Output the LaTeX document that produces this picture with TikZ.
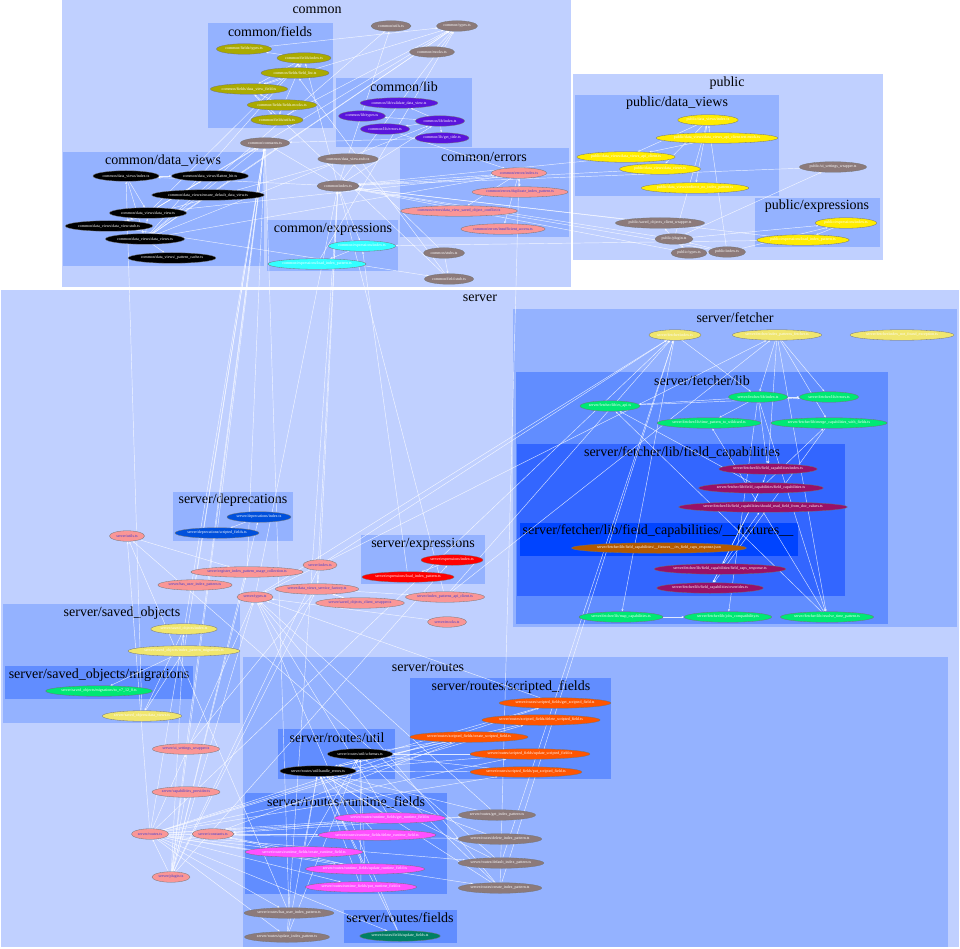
\documentclass[tikz,border=0pt]{standalone}
\usepackage{fontspec}
\setmainfont{Liberation Serif}
\usetikzlibrary{shapes.geometric,arrows.meta}
\pgfdeclarelayer{bg}\pgfdeclarelayer{edges}\pgfsetlayers{bg,edges,main}
\definecolor{Lone}{RGB}{192,208,255}
\definecolor{Ltwo}{RGB}{148,178,255}
\definecolor{Lthree}{RGB}{97,141,255}
\definecolor{Lfour}{RGB}{51,102,255}
\definecolor{Lfive}{RGB}{0,68,255}
\definecolor{cOlive}{RGB}{170,170,0}
\definecolor{cPurple}{RGB}{90,20,220}
\definecolor{cSalmon}{RGB}{250,150,150}
\definecolor{cSalmonText}{RGB}{60,60,210}
\definecolor{cCyan}{RGB}{51,255,255}
\definecolor{cGray}{RGB}{140,122,122}
\definecolor{cYellow}{RGB}{255,236,0}
\definecolor{cKhaki}{RGB}{240,230,110}
\definecolor{cGreen}{RGB}{0,232,115}
\definecolor{cPlum}{RGB}{153,17,102}
\definecolor{cBrown}{RGB}{180,90,0}
\definecolor{cBlue}{RGB}{0,80,220}
\definecolor{cRed}{RGB}{255,0,0}
\definecolor{cOrange}{RGB}{255,85,0}
\definecolor{cPink}{RGB}{255,80,255}
\definecolor{cTeal}{RGB}{0,128,100}
\newcommand\NN[6]{\node[#1,minimum width=#5pt] (#2) at (#3,#4) {#6};}
\newcommand\CL[5]{\fill[#1] (#2,#3) rectangle (#4,#5);}
\begin{document}
\begin{tikzpicture}[x=1pt,y=-1pt,
  nd/.style={ellipse,inner sep=0pt,minimum height=10.5pt,draw=black!55,line width=0.3pt,
    font=\fontsize{4}{4.5}\selectfont,text=white},
  gr/.style={nd,fill=cGray},
  ol/.style={nd,fill=cOlive},
  pu/.style={nd,fill=cPurple},
  bk/.style={nd,fill=black},
  sa/.style={nd,fill=cSalmon,text=cSalmonText},
  cy/.style={nd,fill=cCyan},
  ye/.style={nd,fill=cYellow},
  kh/.style={nd,fill=cKhaki},
  gn/.style={nd,fill=cGreen},
  pl/.style={nd,fill=cPlum},
  br/.style={nd,fill=cBrown},
  bl/.style={nd,fill=cBlue},
  rd/.style={nd,fill=cRed},
  orr/.style={nd,fill=cOrange},
  pk/.style={nd,fill=cPink},
  tl/.style={nd,fill=cTeal},
  ctitle/.style={font=\fontsize{14}{14}\selectfont,inner sep=0pt,text=black},
  ed/.style={draw=white,opacity=0.8,line width=0.45pt,-{Stealth[length=2.6pt,width=2pt]}}]
\useasboundingbox (0,0) rectangle (960,949);
\begin{pgfonlayer}{bg}
\fill[white] (0,0) rectangle (960,949);
% clusters
\CL{Lone}{62}{0}{571}{287}
\node[ctitle] (tcommon) at (317,10) {common};
\CL{Ltwo}{208}{23}{333}{128}
\node[ctitle] (tcfields) at (270,32) {common/fields};
\CL{Ltwo}{336}{78}{472}{147}
\node[ctitle] (tclib) at (404,87) {common/lib};
\CL{Ltwo}{63}{152}{264}{266}
\node[ctitle] (tcdv) at (163,161) {common/data\_views};
\CL{Ltwo}{400}{148}{569}{237}
\node[ctitle] (tcerr) at (484,157) {common/errors};
\CL{Ltwo}{267}{220}{398}{271}
\node[ctitle] (tcexp) at (333,229) {common/expressions};
\CL{Lone}{573}{74}{883}{260}
\node[ctitle] (tpublic) at (727,83) {public};
\CL{Ltwo}{575}{95}{779}{196}
\node[ctitle] (tpdv) at (677,103) {public/data\_views};
\CL{Ltwo}{755}{198}{880}{247}
\node[ctitle] (tpexp) at (817,206) {public/expressions};
\CL{Lone}{1}{290}{959}{947}
\node[ctitle] (tserver) at (480,298) {server};
\CL{Ltwo}{513}{309}{957}{627}
\node[ctitle] (tfet) at (735,318) {server/fetcher};
\CL{Lthree}{516}{372}{888}{624}
\node[ctitle] (tfetlib) at (702,381) {server/fetcher/lib};
\CL{Lfour}{517}{444}{845}{596}
\node[ctitle] (tfc) at (682,453) {server/fetcher/lib/field\_capabilities};
\CL{Lfive}{520}{523}{798}{556}
\node[ctitle] (tfix) at (658,531) {server/fetcher/lib/field\_capabilities/\_\_fixtures\_\_};
\CL{Ltwo}{173}{492}{293}{541}
\node[ctitle] (tdep) at (233,500) {server/deprecations};
\CL{Ltwo}{361}{535}{485}{584}
\node[ctitle] (tsexp) at (423,544) {server/expressions};
\CL{Ltwo}{3}{604}{240}{723}
\node[ctitle] (tso) at (122,613) {server/saved\_objects};
\CL{Lthree}{5}{666}{193}{699}
\node[ctitle] (tmig) at (99,675) {server/saved\_objects/migrations};
\CL{Ltwo}{243}{657}{948}{947}
\node[ctitle] (troutes) at (428,667) {server/routes};
\CL{Lthree}{410}{678}{611}{779}
\node[ctitle] (trsf) at (511,687) {server/routes/scripted\_fields};
\CL{Lthree}{278}{729}{395}{779}
\node[ctitle] (tutil) at (337,738) {server/routes/util};
\CL{Lthree}{245}{793}{447}{894}
\node[ctitle] (trrf) at (346,802) {server/routes/runtime\_fields};
\CL{Lthree}{344}{910}{457}{943}
\node[ctitle] (trf) at (400,918) {server/routes/fields};
\end{pgfonlayer}
% ---- common root
\NN{gr}{cutils}{391}{26}{40}{common/utils.ts}
\NN{gr}{ctypes}{457}{26}{41}{common/types.ts}
\NN{gr}{cmocks}{432}{52}{45}{common/mocks.ts}
\NN{gr}{cconst}{265}{143}{49}{common/constants.ts}
\NN{gr}{cdvstub}{348}{159}{60}{common/data\_view.stub.ts}
\NN{gr}{cindex}{338}{186}{42}{common/index.ts}
\NN{gr}{cstubs}{444}{253}{41}{common/stubs.ts}
\NN{gr}{cfstub}{449}{279}{49}{common/field.stub.ts}
% common/fields
\NN{ol}{ftypes}{244}{49}{55}{common/fields/types.ts}
\NN{ol}{findex}{304}{58}{54}{common/fields/index.ts}
\NN{ol}{flist}{295}{73}{68}{common/fields/field\_list.ts}
\NN{ol}{fdvf}{249}{89}{76}{common/fields/data\_view\_field.ts}
\NN{ol}{fmocks}{282}{105}{60}{common/fields/fields.mocks.ts}
\NN{ol}{futils}{277}{120}{52}{common/fields/utils.ts}
% common/lib
\NN{pu}{lval}{399}{103}{77}{common/lib/validate\_data\_view.ts}
\NN{pu}{ltypes}{362}{116}{47}{common/lib/types.ts}
\NN{pu}{lindex}{440}{121}{49}{common/lib/index.ts}
\NN{pu}{lerr}{385}{129}{49}{common/lib/errors.ts}
\NN{pu}{ltitle}{442}{138}{54}{common/lib/get\_title.ts}
% common/data_views
\NN{bk}{dvindex}{126}{176}{56}{common/data\_views/index.ts}
\NN{bk}{dvflat}{210}{176}{75}{common/data\_views/flatten\_hit.ts}
\NN{bk}{dvens}{208}{195}{109}{common/data\_views/ensure\_default\_data\_view.ts}
\NN{bk}{dvdv}{148}{213}{77}{common/data\_views/data\_view.ts}
\NN{bk}{dvstub}{109}{226}{86}{common/data\_views/data\_view.stub.ts}
\NN{bk}{dvdvs}{145}{239}{77}{common/data\_views/data\_views.ts}
\NN{bk}{dvpc}{172}{258}{86}{common/data\_views/\_pattern\_cache.ts}
% common/errors
\NN{sa}{errindex}{519}{173}{55}{common/errors/index.ts}
\NN{sa}{errdup}{520}{192}{93}{common/errors/duplicate\_index\_pattern.ts}
\NN{sa}{errconf}{459}{211}{112}{common/errors/data\_view\_saved\_object\_conflict.ts}
\NN{sa}{errins}{503}{229}{82}{common/errors/insufficient\_access.ts}
% common/expressions
\NN{cy}{expindex}{362}{246}{67}{common/expressions/index.ts}
\NN{cy}{expload}{317}{264}{96}{common/expressions/load\_index\_pattern.ts}
% ---- public
\NN{ye}{pdvindex}{708}{120}{60}{public/data\_views/index.ts}
\NN{ye}{pdvmock}{717}{138}{117}{public/data\_views/data\_views\_api\_client.test.mock.ts}
\NN{ye}{pdvapi}{626}{157}{95}{public/data\_views/data\_views\_api\_client.ts}
\NN{ye}{pdvdvs}{660}{169}{81}{public/data\_views/data\_views.ts}
\NN{ye}{pdvredir}{695}{188}{107}{public/data\_views/redirect\_no\_index\_pattern.ts}
\NN{gr}{pui}{833}{167}{67}{public/ui\_settings\_wrapper.ts}
\NN{gr}{psoc}{660}{223}{87}{public/saved\_objects\_client\_wrapper.ts}
\NN{gr}{pplugin}{674}{239}{38}{public/plugin.ts}
\NN{gr}{ptypes}{689}{253}{36}{public/types.ts}
\NN{gr}{pindex}{727}{252}{37}{public/index.ts}
\NN{ye}{pexpindex}{846}{223}{61}{public/expressions/index.ts}
\NN{ye}{pexpload}{803}{240}{90}{public/expressions/load\_index\_pattern.ts}
% ---- server/fetcher
\NN{kh}{fetindex}{675}{335}{52}{server/fetcher/index.ts}
\NN{kh}{fetipf}{777}{335}{88}{server/fetcher/index\_patterns\_fetcher.ts}
\NN{kh}{fetnf}{902}{335}{104}{server/fetcher/index\_not\_found\_exception.ts}
\NN{gn}{libes}{610}{406}{60}{server/fetcher/lib/es\_api.ts}
\NN{gn}{libindex}{758}{397}{59}{server/fetcher/lib/index.ts}
\NN{gn}{liberrors}{829}{397}{59}{server/fetcher/lib/errors.ts}
\NN{gn}{libtpw}{709}{423}{100}{server/fetcher/lib/time\_pattern\_to\_wildcard.ts}
\NN{gn}{libmerge}{829}{423}{112}{server/fetcher/lib/merge\_capabilities\_with\_fields.ts}
\NN{pl}{fcindex}{768}{469}{96}{server/fetcher/lib/field\_capabilities/index.ts}
\NN{pl}{fcfc}{761}{488}{120}{server/fetcher/lib/field\_capabilities/field\_capabilities.ts}
\NN{pl}{fcshould}{763}{507}{160}{server/fetcher/lib/field\_capabilities/should\_read\_field\_from\_doc\_values.ts}
\NN{br}{fixjson}{659}{548}{166}{server/fetcher/lib/field\_capabilities/\_\_fixtures\_\_/es\_field\_caps\_response.json}
\NN{pl}{fcresp}{720}{569}{125}{server/fetcher/lib/field\_capabilities/field\_caps\_response.ts}
\NN{pl}{fcover}{710}{588}{104}{server/fetcher/lib/field\_capabilities/overrides.ts}
\NN{gn}{libmap}{621}{617}{84}{server/fetcher/lib/map\_capabilities.ts}
\NN{gn}{libjobs}{728}{617}{85}{server/fetcher/lib/jobs\_compatibility.ts}
\NN{gn}{libresolve}{827}{617}{91}{server/fetcher/lib/resolve\_time\_pattern.ts}
% ---- server misc
\NN{bl}{depindex}{259}{517}{64}{server/deprecations/index.ts}
\NN{bl}{depsf}{217}{533}{82}{server/deprecations/scripted\_fields.ts}
\NN{sa}{sutils}{127}{536}{35}{server/utils.ts}
\NN{rd}{sexpindex}{452}{560}{62}{server/expressions/index.ts}
\NN{rd}{sexpload}{408}{577}{90}{server/expressions/load\_index\_pattern.ts}
\NN{sa}{sregusage}{247}{572}{108}{server/register\_index\_pattern\_usage\_collection.ts}
\NN{sa}{shasuser}{195}{585}{74}{server/has\_user\_index\_pattern.ts}
\NN{sa}{sindex}{320}{565}{34}{server/index.ts}
\NN{sa}{stypes}{255}{597}{36}{server/types.ts}
\NN{sa}{sdvsf}{317}{589}{82}{server/data\_views\_service\_factory.ts}
\NN{sa}{ssoc}{360}{603}{86}{server/saved\_objects\_client\_wrapper.ts}
\NN{sa}{sipa}{445}{597}{77}{server/index\_patterns\_api\_client.ts}
\NN{sa}{smocks}{447}{622}{39}{server/mocks.ts}
\NN{kh}{soindex}{184}{629}{66}{server/saved\_objects/index.ts}
\NN{kh}{soipm}{184}{651}{108}{server/saved\_objects/index\_pattern\_migrations.ts}
\NN{gn}{mignode}{99}{691}{103}{server/saved\_objects/migrations/to\_v7\_12\_0.ts}
\NN{kh}{sodv}{142}{716}{78}{server/saved\_objects/data\_views.ts}
\NN{sa}{sui}{186}{749}{67}{server/ui\_settings\_wrapper.ts}
\NN{sa}{scap}{186}{792}{68}{server/capabilities\_provider.ts}
\NN{sa}{sroutes}{150}{834}{37}{server/routes.ts}
\NN{sa}{sconst}{213}{834}{36}{server/constants.ts}
\NN{sa}{splugin}{171}{877}{38}{server/plugin.ts}
% ---- server/routes
\NN{orr}{rsfget}{555}{703}{107}{server/routes/scripted\_fields/get\_scripted\_field.ts}
\NN{orr}{rsfdel}{541}{720}{114}{server/routes/scripted\_fields/delete\_scripted\_field.ts}
\NN{orr}{rsfcreate}{469}{737}{113}{server/routes/scripted\_fields/create\_scripted\_field.ts}
\NN{orr}{rsfupd}{530}{754}{115}{server/routes/scripted\_fields/update\_scripted\_field.ts}
\NN{orr}{rsfput}{526}{772}{107}{server/routes/scripted\_fields/put\_scripted\_field.ts}
\NN{bk}{uschemas}{360}{754}{65}{server/routes/util/schemas.ts}
\NN{bk}{uhandle}{318}{771}{76}{server/routes/util/handle\_errors.ts}
\NN{pk}{rrfget}{390}{818}{105}{server/routes/runtime\_fields/get\_runtime\_field.ts}
\NN{pk}{rrfdel}{377}{835}{112}{server/routes/runtime\_fields/delete\_runtime\_field.ts}
\NN{pk}{rrfcreate}{304}{852}{112}{server/routes/runtime\_fields/create\_runtime\_field.ts}
\NN{pk}{rrfupd}{365}{869}{114}{server/routes/runtime\_fields/update\_runtime\_field.ts}
\NN{pk}{rrfput}{361}{887}{107}{server/routes/runtime\_fields/put\_runtime\_field.ts}
\NN{gr}{rget}{497}{815}{77}{server/routes/get\_index\_pattern.ts}
\NN{gr}{rdel}{500}{839}{83}{server/routes/delete\_index\_pattern.ts}
\NN{gr}{rdef}{501}{863}{84}{server/routes/default\_index\_pattern.ts}
\NN{gr}{rcreate}{500}{888}{83}{server/routes/create\_index\_pattern.ts}
\NN{gr}{rhasuser}{289}{913}{88}{server/routes/has\_user\_index\_pattern.ts}
\NN{gr}{rupd}{287}{937}{84}{server/routes/update\_index\_pattern.ts}
\NN{tl}{rfupd}{400}{936}{79}{server/routes/fields/update\_fields.ts}
% ---- edges
\begin{pgfonlayer}{edges}
\foreach \a/\b in {cindex/dvindex, cindex/findex, cindex/lindex, cindex/errindex, cindex/expindex, cindex/cconst, cindex/ctypes, cindex/cutils,
 cmocks/ctypes, cstubs/cdvstub, cstubs/cfstub, cdvstub/dvstub, cfstub/fdvf, cfstub/flist,
 dvindex/dvdv, dvindex/dvdvs, dvindex/dvflat,
 dvdvs/dvdv, dvdvs/dvens, dvdvs/dvpc, dvdvs/findex, dvdvs/lindex, dvdvs/errindex, dvdvs/cconst, dvdvs/ctypes, dvdvs/cutils,
 dvdv/findex, dvdv/dvflat, dvdv/ctypes, dvdv/errindex, dvdv/cconst,
 dvstub/dvdv, dvstub/cfstub, dvens/ctypes,
 findex/flist, findex/fdvf, findex/futils, findex/ftypes,
 flist/fdvf, fdvf/futils, fdvf/ctypes, fmocks/fdvf, ftypes/ctypes, futils/ctypes,
 lindex/lval, lindex/lerr, lindex/ltitle, lindex/ltypes, ltitle/cconst, lerr/errindex,
 errindex/errdup, errindex/errconf, errindex/errins,
 expindex/expload, expload/ctypes,
 pindex/pplugin, pindex/ptypes, pindex/pdvindex, pindex/pexpindex, pindex/cindex,
 pplugin/pdvindex, pplugin/pexpindex, pplugin/pui, pplugin/psoc, pplugin/ptypes, pplugin/cindex,
 pdvindex/pdvapi, pdvindex/pdvdvs, pdvindex/pdvredir, pdvdvs/cindex, pdvapi/cindex, pdvmock/pdvapi,
 pexpindex/pexpload, pexpload/cindex, pexpload/expindex, psoc/cindex, pui/cindex, ptypes/cindex,
 sindex/splugin, sindex/stypes, sindex/fetindex, sindex/cindex, sindex/sdvsf, sindex/fetipf,
 splugin/sroutes, splugin/sexpindex, splugin/soindex, splugin/depindex, splugin/sregusage, splugin/scap,
 splugin/sui, splugin/sdvsf, splugin/stypes, splugin/cconst,
 sroutes/rget, sroutes/rdel, sroutes/rdef, sroutes/rcreate, sroutes/rhasuser, sroutes/rupd, sroutes/rfupd,
 sroutes/rsfget, sroutes/rsfdel, sroutes/rsfcreate, sroutes/rsfupd, sroutes/rsfput,
 sroutes/rrfget, sroutes/rrfdel, sroutes/rrfcreate, sroutes/rrfupd, sroutes/rrfput, sroutes/fetindex, sroutes/stypes,
 sroutes/cconst, sroutes/sutils,
 rget/uhandle, rdel/uhandle, rdef/uhandle, rcreate/uhandle, rupd/uhandle, rcreate/uschemas, rupd/uschemas,
 rsfget/uhandle, rsfdel/uhandle, rsfcreate/uhandle, rsfupd/uhandle, rsfput/uhandle,
 rsfcreate/uschemas, rsfupd/uschemas, rsfput/uschemas,
 rrfget/uhandle, rrfdel/uhandle, rrfcreate/uhandle, rrfupd/uhandle, rrfput/uhandle,
 rrfcreate/uschemas, rrfupd/uschemas, rrfput/uschemas, rfupd/uhandle,
 rrfget/sconst, rrfdel/sconst, rrfcreate/sconst, rrfupd/sconst, rsfcreate/sconst, rget/sconst,
 rhasuser/sutils, rdef/sutils, rdef/fetindex, rcreate/fetindex,
 rupd/cindex, rcreate/errindex, rhasuser/cconst,
 rget/stypes, rcreate/stypes, rrfget/stypes, rsfget/stypes, rfupd/stypes,
 sdvsf/ssoc, sdvsf/sui, sdvsf/sipa, sdvsf/cindex, ssoc/sdvsf,
 soindex/sodv, sodv/soipm, soipm/mignode, sodv/dvindex, soipm/cconst,
 depindex/depsf, depsf/cconst, sexpindex/sexpload, sexpload/expindex,
 sipa/fetindex, sipa/fetipf, sipa/cindex, sutils/sregusage, shasuser/cconst, sregusage/cconst,
 smocks/stypes, sui/cconst, stypes/cindex, stypes/fetindex,
 fetindex/libindex, fetindex/libmap,
 fetipf/libindex, fetipf/liberrors, fetipf/libmerge, fetipf/libresolve, fetipf/fcindex,
 libindex/liberrors, libindex/libes, libindex/fcindex, libindex/libresolve, libindex/libtpw, libindex/libjobs,
 fcindex/fcfc, fcfc/libes, fcfc/fcresp, fcfc/fcover, fcfc/libmerge, fcresp/fcshould, fcresp/fcover,
 libmap/libjobs, libresolve/libes, libresolve/libtpw, libmerge/fcover, libes/liberrors}{\draw[ed] (\a) -- (\b);}
\end{pgfonlayer}
\end{tikzpicture}
\end{document}
